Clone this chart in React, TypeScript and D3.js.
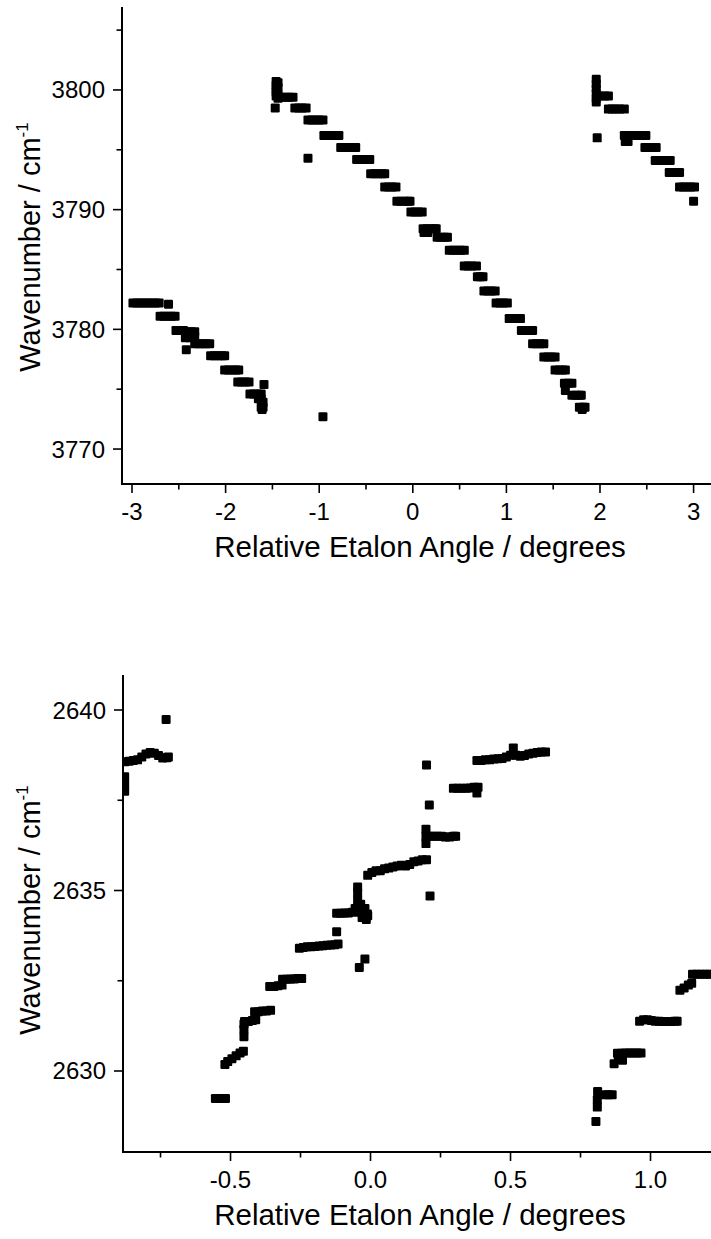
import React from "react";
import * as d3 from "d3";

// ---------- DATA ----------
const topSegLeft: [number, number][] = [
  [-2.99,3782.2],[-2.95,3782.2],[-2.91,3782.2],[-2.87,3782.2],[-2.83,3782.2],[-2.79,3782.2],[-2.75,3782.2],[-2.71,3782.2],[-2.61,3782.1],
  [-2.70,3781.1],[-2.66,3781.1],[-2.62,3781.1],[-2.58,3781.1],[-2.54,3781.1],
  [-2.53,3779.9],[-2.49,3779.9],[-2.45,3779.9],[-2.41,3779.8],[-2.37,3779.8],[-2.33,3779.8],[-2.43,3779.3],[-2.38,3779.3],[-2.33,3779.4],
  [-2.33,3778.8],[-2.29,3778.8],[-2.25,3778.8],[-2.21,3778.8],[-2.17,3778.8],
  [-2.42,3778.3],
  [-2.16,3777.8],[-2.12,3777.8],[-2.08,3777.8],[-2.04,3777.8],[-2.01,3777.8],
  [-2.01,3776.6],[-1.97,3776.6],[-1.93,3776.6],[-1.89,3776.6],[-1.86,3776.6],
  [-1.87,3775.6],[-1.83,3775.6],[-1.79,3775.6],[-1.75,3775.6],
  [-1.59,3775.4],
  [-1.74,3774.6],[-1.70,3774.6],[-1.66,3774.6],[-1.62,3774.6],[-1.65,3774.2],[-1.62,3774.2],
  [-1.62,3773.5],[-1.60,3773.5],[-1.61,3773.3],[-1.60,3773.9],
  [-0.96,3772.7],
];

const topSegMiddle: [number, number][] = [
  [-1.46,3800.7],[-1.46,3800.4],[-1.46,3800.1],[-1.46,3799.8],[-1.46,3799.5],[-1.44,3800.6],[-1.44,3800.2],[-1.44,3799.6],[-1.44,3799.3],
  [-1.47,3798.5],
  [-1.40,3799.4],[-1.36,3799.4],[-1.32,3799.4],[-1.28,3799.4],
  [-1.26,3798.5],[-1.22,3798.5],[-1.18,3798.5],[-1.14,3798.5],
  [-1.12,3797.5],[-1.08,3797.5],[-1.04,3797.5],[-1.00,3797.5],[-0.96,3797.5],
  [-1.12,3794.3],
  [-0.95,3796.2],[-0.91,3796.2],[-0.87,3796.2],[-0.83,3796.2],[-0.79,3796.2],
  [-0.77,3795.2],[-0.73,3795.2],[-0.69,3795.2],[-0.65,3795.2],[-0.61,3795.2],
  [-0.60,3794.2],[-0.56,3794.2],[-0.52,3794.2],[-0.48,3794.2],[-0.46,3794.2],
  [-0.45,3793.0],[-0.41,3793.0],[-0.37,3793.0],[-0.33,3793.0],[-0.30,3793.0],
  [-0.30,3791.9],[-0.26,3791.9],[-0.22,3791.9],[-0.18,3791.9],
  [-0.17,3790.7],[-0.13,3790.7],[-0.09,3790.7],[-0.05,3790.7],[-0.03,3790.7],
  [-0.02,3789.8],[0.02,3789.8],[0.06,3789.8],[0.10,3789.8],
  [0.11,3788.4],[0.15,3788.4],[0.19,3788.4],[0.23,3788.4],[0.25,3788.4],[0.12,3788.1],[0.16,3788.1],
  [0.26,3787.7],[0.30,3787.7],[0.34,3787.7],[0.37,3787.7],
  [0.39,3786.6],[0.43,3786.6],[0.47,3786.6],[0.51,3786.6],[0.55,3786.6],
  [0.55,3785.3],[0.59,3785.3],[0.63,3785.3],[0.68,3785.3],
  [0.69,3784.4],[0.72,3784.4],[0.75,3784.4],
  [0.76,3783.2],[0.80,3783.2],[0.84,3783.2],[0.88,3783.2],
  [0.89,3782.2],[0.93,3782.2],[0.97,3782.2],[1.01,3782.2],
  [1.03,3780.9],[1.07,3780.9],[1.11,3780.9],[1.15,3780.9],
  [1.16,3779.9],[1.20,3779.9],[1.24,3779.9],[1.28,3779.9],
  [1.28,3778.8],[1.32,3778.8],[1.36,3778.8],[1.40,3778.8],
  [1.40,3777.7],[1.44,3777.7],[1.48,3777.7],[1.52,3777.7],
  [1.52,3776.6],[1.56,3776.6],[1.60,3776.6],[1.63,3776.6],
  [1.62,3775.5],[1.66,3775.5],[1.70,3775.5],[1.63,3774.9],
  [1.70,3774.5],[1.74,3774.5],[1.78,3774.5],[1.80,3774.5],
  [1.78,3773.5],[1.82,3773.5],[1.84,3773.5],[1.81,3773.3],
];

const topSegRight: [number, number][] = [
  [1.96,3800.9],[1.96,3800.5],[1.96,3800.1],[1.96,3799.7],[1.96,3799.3],[1.96,3799.0],
  [2.00,3799.5],[2.05,3799.5],[2.09,3799.5],
  [2.09,3798.4],[2.13,3798.4],[2.17,3798.4],[2.21,3798.4],[2.26,3798.4],
  [1.97,3796.0],
  [2.26,3796.2],[2.30,3796.2],[2.34,3796.2],[2.38,3796.2],[2.42,3796.2],[2.46,3796.2],[2.49,3796.2],[2.27,3795.7],[2.30,3795.7],
  [2.48,3795.2],[2.52,3795.2],[2.56,3795.2],[2.60,3795.2],
  [2.59,3794.1],[2.63,3794.1],[2.67,3794.1],[2.71,3794.1],[2.75,3794.1],
  [2.74,3793.1],[2.78,3793.1],[2.82,3793.1],[2.85,3793.1],
  [2.85,3791.9],[2.89,3791.9],[2.93,3791.9],[2.97,3791.9],[3.01,3791.9],
  [3.00,3790.7],
];

const bottomSegLeft: [number, number][] = [
  [-0.878,2638.15],[-0.878,2637.95],[-0.878,2637.75],
  [-0.877,2638.57],[-0.862,2638.58],[-0.847,2638.6],[-0.832,2638.62],[-0.817,2638.7],[-0.802,2638.78],[-0.787,2638.82],[-0.772,2638.8],[-0.757,2638.74],[-0.742,2638.67],[-0.727,2638.68],[-0.722,2638.7],
  [-0.730,2639.74],
];

const bottomSegMiddle: [number, number][] = [
  [-0.554,2629.24],[-0.542,2629.24],[-0.530,2629.24],[-0.518,2629.24],
  [-0.520,2630.18],[-0.510,2630.26],[-0.495,2630.34],[-0.480,2630.42],[-0.466,2630.5],[-0.454,2630.55],
  [-0.452,2630.95],[-0.452,2631.15],[-0.452,2631.3],
  [-0.450,2631.37],[-0.436,2631.37],[-0.422,2631.4],[-0.41,2631.42],
  [-0.414,2631.64],[-0.400,2631.64],[-0.386,2631.66],[-0.372,2631.66],[-0.357,2631.68],
  [-0.360,2632.34],[-0.345,2632.34],[-0.330,2632.36],[-0.316,2632.38],
  [-0.314,2632.54],[-0.300,2632.54],[-0.286,2632.55],[-0.272,2632.55],[-0.259,2632.56],[-0.246,2632.56],
  [-0.254,2633.40],[-0.240,2633.42],[-0.226,2633.44],[-0.212,2633.44],[-0.198,2633.45],[-0.184,2633.46],[-0.170,2633.47],[-0.156,2633.48],[-0.142,2633.49],[-0.128,2633.5],[-0.116,2633.52],
  [-0.121,2633.86],
  [-0.121,2634.37],[-0.107,2634.37],[-0.093,2634.38],[-0.079,2634.38],[-0.065,2634.4],[-0.051,2634.42],[-0.037,2634.4],[-0.023,2634.38],[-0.011,2634.35],
  [-0.046,2634.55],[-0.046,2634.75],[-0.046,2634.95],[-0.046,2635.1],
  [-0.055,2634.5],[-0.035,2634.62],[-0.02,2634.5],[-0.01,2634.3],[-0.03,2634.25],[-0.015,2634.2],
  [-0.020,2633.1],[-0.040,2632.87],
  [-0.010,2635.42],[0.005,2635.5],[0.020,2635.55],[0.035,2635.55],[0.050,2635.6],[0.065,2635.62],[0.080,2635.65],[0.095,2635.68],[0.110,2635.7],[0.125,2635.68],[0.140,2635.72],[0.155,2635.8],[0.170,2635.82],[0.185,2635.85],[0.200,2635.85],
  [0.2125,2634.85],
  [0.198,2636.3],[0.198,2636.5],[0.198,2636.7],[0.212,2636.5],[0.226,2636.5],[0.240,2636.5],[0.254,2636.5],[0.268,2636.48],[0.282,2636.48],[0.296,2636.5],[0.304,2636.5],
  [0.21,2637.37],[0.2,2638.48],
  [0.296,2637.83],[0.311,2637.83],[0.326,2637.83],[0.341,2637.83],[0.356,2637.84],[0.370,2637.86],[0.384,2637.86],[0.380,2637.7],
  [0.380,2638.6],[0.395,2638.6],[0.410,2638.62],[0.425,2638.62],[0.440,2638.64],[0.455,2638.65],[0.470,2638.66],[0.485,2638.7],[0.500,2638.75],[0.510,2638.95],[0.520,2638.75],[0.535,2638.72],[0.550,2638.74],[0.565,2638.78],[0.580,2638.8],[0.595,2638.82],[0.610,2638.84],[0.625,2638.84],
];

const bottomSegRight: [number, number][] = [
  [0.805,2628.6],[0.81,2629.0],[0.81,2629.2],[0.811,2629.43],
  [0.836,2629.34],[0.850,2629.34],[0.863,2629.34],
  [0.870,2630.2],[0.885,2630.35],[0.9,2630.3],[0.882,2630.49],[0.896,2630.49],[0.910,2630.5],[0.924,2630.5],[0.938,2630.5],[0.952,2630.5],[0.966,2630.5],
  [0.961,2631.38],[0.975,2631.42],[0.989,2631.42],[1.003,2631.4],[1.017,2631.38],[1.031,2631.38],[1.045,2631.37],[1.059,2631.37],[1.073,2631.37],[1.087,2631.38],[1.095,2631.38],
  [1.105,2632.24],[1.120,2632.3],[1.135,2632.38],[1.147,2632.43],
  [1.150,2632.68],[1.165,2632.68],[1.180,2632.68],[1.195,2632.68],[1.210,2632.68],[1.225,2632.68],
];

const topMajorX = [-3, -2, -1, 0, 1, 2, 3];
const topMinorX = [-2.5, -1.5, -0.5, 0.5, 1.5, 2.5];
const topMajorY = [3770, 3780, 3790, 3800];
const topMinorY = [3775, 3785, 3795, 3805];

const bottomMajorX = [-0.5, 0, 0.5, 1.0];
const bottomMinorX = [-0.75, -0.25, 0.25, 0.75];
const bottomMajorY = [2630, 2635, 2640];
const bottomMinorY = [2632.5, 2637.5];

const xTitle = "Relative Etalon Angle / degrees";

// ---------- COMPONENTS ----------
const FONT = "'Liberation Sans', Arial, Helvetica, sans-serif";
const W = 711;
const H = 1239;
const MS = 9;

type PanelProps = {
  id: string;
  points: [number, number][];
  xDomain: [number, number];
  yDomain: [number, number];
  left: number;
  right: number;
  top: number;
  bottom: number;
  majorX: number[];
  minorX: number[];
  majorY: number[];
  minorY: number[];
  fmtX: (v: number) => string;
  yTitleY: number;
};

function Panel(p: PanelProps) {
  const x = d3.scaleLinear().domain(p.xDomain).range([p.left, p.right]);
  const y = d3.scaleLinear().domain(p.yDomain).range([p.bottom, p.top]);
  const majorLen = 9;
  const minorLen = 5.5;
  return (
    <g>
      <defs>
        <clipPath id={p.id}>
          <rect x={p.left} y={p.top} width={p.right - p.left} height={p.bottom - p.top} />
        </clipPath>
      </defs>
      <g clipPath={`url(#${p.id})`}>
        {p.points.map((d, i) => (
          <rect key={i} x={x(d[0]) - MS / 2} y={y(d[1]) - MS / 2} width={MS} height={MS} rx={1.2} fill="#000" />
        ))}
      </g>
      {/* axes */}
      <line x1={p.left} x2={p.left} y1={p.top} y2={p.bottom + 1} stroke="#000" strokeWidth={2} />
      <line x1={p.left - 1} x2={p.right} y1={p.bottom} y2={p.bottom} stroke="#000" strokeWidth={2} />
      {p.majorX.map((v) => (
        <g key={"mx" + v}>
          <line x1={x(v)} x2={x(v)} y1={p.bottom} y2={p.bottom + majorLen} stroke="#000" strokeWidth={1.6} />
          <text x={x(v)} y={p.bottom + 36} textAnchor="middle" fontSize={24} fontFamily={FONT} fill="#000">
            {p.fmtX(v)}
          </text>
        </g>
      ))}
      {p.minorX.map((v) => (
        <line key={"nx" + v} x1={x(v)} x2={x(v)} y1={p.bottom} y2={p.bottom + minorLen} stroke="#000" strokeWidth={1.6} />
      ))}
      {p.majorY.map((v) => (
        <g key={"my" + v}>
          <line x1={p.left - majorLen} x2={p.left} y1={y(v)} y2={y(v)} stroke="#000" strokeWidth={1.6} />
          <text x={p.left - 17} y={y(v) + 8.5} textAnchor="end" fontSize={24} fontFamily={FONT} fill="#000">
            {String(v)}
          </text>
        </g>
      ))}
      {p.minorY.map((v) => (
        <line key={"ny" + v} x1={p.left - minorLen} x2={p.left} y1={y(v)} y2={y(v)} stroke="#000" strokeWidth={1.6} />
      ))}
      <text
        x={420}
        y={p.bottom + 73}
        textAnchor="middle"
        fontSize={29.5}
        fontFamily={FONT}
        fill="#000"
      >
        {xTitle}
      </text>
      <text
        transform={`translate(40, ${p.yTitleY}) rotate(-90)`}
        textAnchor="middle"
        fontSize={29}
        fontFamily={FONT}
        fill="#000"
      >
        Wavenumber / cm
        <tspan fontSize={17} dy={-12}>-1</tspan>
      </text>
    </g>
  );
}

export default function App() {
  const topPoints = [...topSegLeft, ...topSegMiddle, ...topSegRight];
  const bottomPoints = [...bottomSegLeft, ...bottomSegMiddle, ...bottomSegRight];
  return (
    <svg
      width={W}
      height={H}
      viewBox={`0 0 ${W} ${H}`}
      style={{ position: "absolute", left: 0, top: 0, background: "#fff" }}
    >
      <rect x={0} y={0} width={W} height={H} fill="#fff" />
      <Panel
        id="clipTop"
        points={topPoints}
        xDomain={[-3.107, 3.186]}
        yDomain={[3767.08, 3806.93]}
        left={122}
        right={711}
        top={7}
        bottom={484}
        majorX={topMajorX}
        minorX={topMinorX}
        majorY={topMajorY}
        minorY={topMinorY}
        fmtX={(v) => String(v)}
        yTitleY={247}
      />
      <Panel
        id="clipBottom"
        points={bottomPoints}
        xDomain={[-0.884, 1.216]}
        yDomain={[2627.756, 2640.97]}
        left={123}
        right={711}
        top={675}
        bottom={1152}
        majorX={bottomMajorX}
        minorX={bottomMinorX}
        majorY={bottomMajorY}
        minorY={bottomMinorY}
        fmtX={(v) => v.toFixed(1)}
        yTitleY={910}
      />
    </svg>
  );
}
